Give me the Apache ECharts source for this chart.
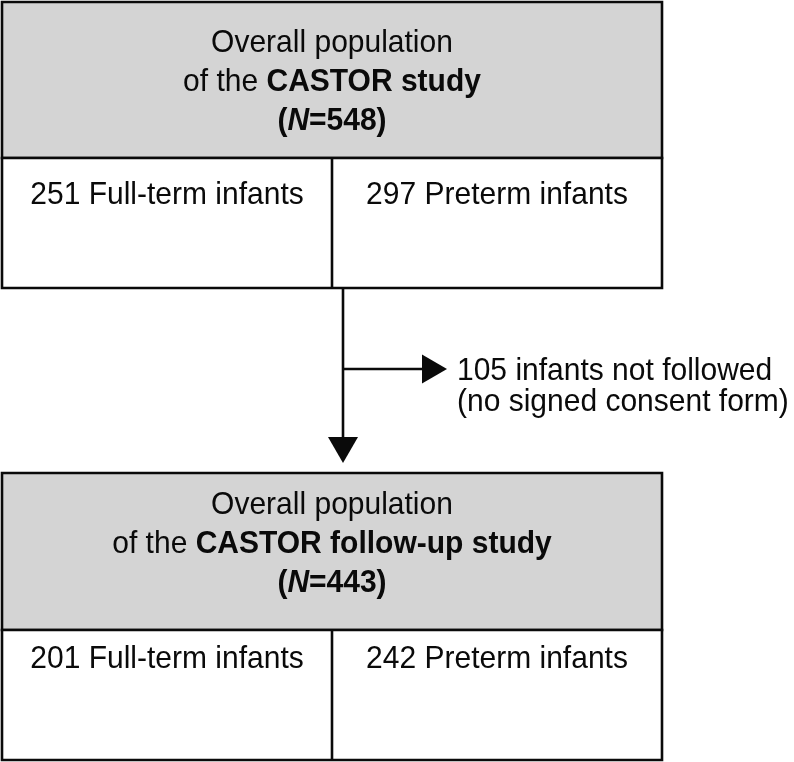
<!DOCTYPE html>
<html>
<head>
<meta charset="utf-8">
<script src="https://cdn.jsdelivr.net/npm/echarts@6/dist/echarts.min.js"></script>
<style>
  html, body { margin: 0; padding: 0; background: #ffffff; }
  #chart { width: 794px; height: 762px; }
</style>
</head>
<body>
<div id="chart"></div>
<script>
// ---- data ----
const studies = ['CASTOR study', 'CASTOR follow-up study'];
const totals = [548, 443];
const fullTerm = [251, 201];
const preterm = [297, 242];
const notFollowed = [105];
const exclusionReason = ['(no signed consent form)'];

// ---- layout (in chart units, mapped through hidden axes) ----
const layout = {
  left: 2, right: 662, split: 332,
  boxes: [
    { top: 2,   headBottom: 158, bottom: 288, headTextY: 82,  cellTextY: 195 },
    { top: 473, headBottom: 630, bottom: 760, headTextY: 544, cellTextY: 659 }
  ],
  stemX: 343, stemTop: 288, arrowTipY: 463, arrowBaseY: 437, arrowHalfW: 15,
  branchY: 369, branchTipX: 447, branchBaseX: 422, branchHalfH: 14.5,
  sideTextX: 457, sideLine1Y: 371, sideLine2Y: 402
};

const FONT = '"Liberation Sans", Arial, Helvetica, sans-serif';
const FS = 30;
const SY = 1.07;
const LH = 36.5;
const LW = 2.6;
const INK = '#0a0a0a';
const GRAY = '#d4d4d4';

function textEl(x, y, text, align, rich) {
  return {
    type: 'text', x: x, y: y, scaleX: 1, scaleY: SY, originX: 0, originY: 0,
    style: {
      text: text, x: 0, y: 0, fill: INK,
      fontFamily: FONT, fontSize: FS, fontWeight: 'normal',
      align: align, verticalAlign: 'middle',
      lineHeight: LH,
      rich: rich || {}
    }
  };
}

const richHead = {
  n: { fontFamily: FONT, fontSize: FS, fill: INK, lineHeight: LH },
  b: { fontFamily: FONT, fontSize: FS, fill: INK, fontWeight: 'bold', lineHeight: LH },
  bi: { fontFamily: FONT, fontSize: FS, fill: INK, fontWeight: 'bold', fontStyle: 'italic', lineHeight: LH }
};

function renderBox(params, api) {
  const i = params.dataIndex;
  const L = layout.boxes[i];
  const tl = api.coord([layout.left, L.top]);
  const hb = api.coord([layout.right, L.headBottom]);
  const br = api.coord([layout.right, L.bottom]);
  const sp = api.coord([layout.split, L.headBottom]);
  const cx = (tl[0] + hb[0]) / 2;
  const headY = api.coord([0, L.headTextY])[1];
  const cellY = api.coord([0, L.cellTextY])[1];
  const leftCx = (tl[0] + sp[0]) / 2;
  const rightCx = (sp[0] + br[0]) / 2;
  const headText = '{n|Overall population}\n{n|of the }{b|' + studies[i] + '}\n{b|(}{bi|N}{b|=' + totals[i] + ')}';
  return {
    type: 'group',
    children: [
      { type: 'rect', shape: { x: tl[0], y: tl[1], width: hb[0] - tl[0], height: hb[1] - tl[1] },
        style: { fill: GRAY, stroke: INK, lineWidth: LW } },
      { type: 'rect', shape: { x: tl[0], y: hb[1], width: br[0] - tl[0], height: br[1] - hb[1] },
        style: { fill: '#ffffff', stroke: INK, lineWidth: LW } },
      { type: 'line', shape: { x1: sp[0], y1: sp[1], x2: sp[0], y2: br[1] },
        style: { stroke: INK, lineWidth: LW } },
      textEl(cx, headY, headText, 'center', richHead),
      textEl(leftCx, cellY, fullTerm[i] + ' Full-term infants', 'center'),
      textEl(rightCx, cellY, preterm[i] + ' Preterm infants', 'center')
    ]
  };
}

function renderFlow(params, api) {
  const top = api.coord([layout.stemX, layout.stemTop]);
  const base = api.coord([layout.stemX, layout.arrowBaseY]);
  const tip = api.coord([layout.stemX, layout.arrowTipY]);
  const hw = api.coord([layout.stemX + layout.arrowHalfW, 0])[0] - top[0];
  const br0 = api.coord([layout.stemX, layout.branchY]);
  const brBase = api.coord([layout.branchBaseX, layout.branchY]);
  const brTip = api.coord([layout.branchTipX, layout.branchY]);
  const hh = api.coord([0, layout.branchY + layout.branchHalfH])[1] - br0[1];
  const t1 = api.coord([layout.sideTextX, layout.sideLine1Y]);
  const t2 = api.coord([layout.sideTextX, layout.sideLine2Y]);
  return {
    type: 'group',
    children: [
      { type: 'line', shape: { x1: top[0], y1: top[1], x2: base[0], y2: base[1] + 2 },
        style: { stroke: INK, lineWidth: LW } },
      { type: 'polygon', shape: { points: [[base[0] - hw, base[1]], [base[0] + hw, base[1]], [tip[0], tip[1]]] },
        style: { fill: INK } },
      { type: 'line', shape: { x1: br0[0], y1: br0[1], x2: brBase[0] + 2, y2: brBase[1] },
        style: { stroke: INK, lineWidth: LW } },
      { type: 'polygon', shape: { points: [[brBase[0], brBase[1] - hh], [brBase[0], brBase[1] + hh], [brTip[0], brTip[1]]] },
        style: { fill: INK } },
      textEl(t1[0], t1[1], notFollowed[0] + ' infants not followed', 'left'),
      textEl(t2[0], t2[1], exclusionReason[0], 'left')
    ]
  };
}

const chart = echarts.init(document.getElementById('chart'), null, { renderer: 'canvas' });
chart.setOption({
  animation: false,
  backgroundColor: '#ffffff',
  grid: { left: 0, right: 0, top: 0, bottom: 0 },
  xAxis: { type: 'value', min: 0, max: 794, show: false },
  yAxis: { type: 'value', min: 0, max: 762, inverse: true, show: false },
  series: [
    { type: 'custom', renderItem: renderBox, data: studies.map((s, i) => [i, totals[i]]), silent: true },
    { type: 'custom', renderItem: renderFlow, data: [[0, notFollowed[0]]], silent: true }
  ]
});
</script>
</body>
</html>
